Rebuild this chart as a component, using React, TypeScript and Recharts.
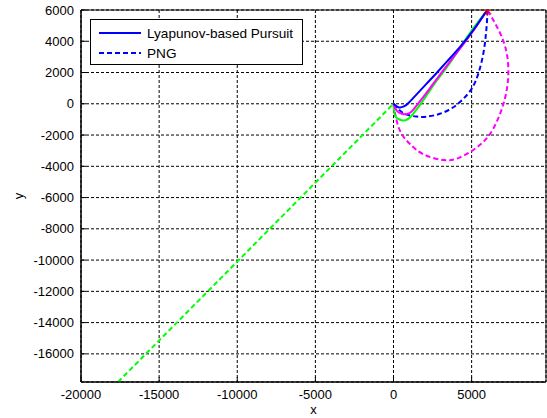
import {
  ComposedChart,
  Line,
  Scatter,
  XAxis,
  YAxis,
  CartesianGrid,
  ReferenceArea,
  Legend,
} from "recharts";

// === Axis ticks ===
const xTicks = [-20000, -15000, -10000, -5000, 0, 5000];
const yTicks = [6000, 4000, 2000, 0, -2000, -4000, -6000, -8000, -10000, -12000, -14000, -16000];
const xDomain = [-20000, 9760];
const yDomain = [-17800, 6000];

// === Trajectories ===
const lyapunovBlue = [
  { x: 0, y: 0 }, { x: 300, y: -220 }, { x: 670, y: -170 }, { x: 1010, y: 100 },
  { x: 1480, y: 600 }, { x: 2120, y: 1290 }, { x: 2760, y: 1970 }, { x: 3400, y: 2680 },
  { x: 4260, y: 3640 }, { x: 5110, y: 4710 }, { x: 6000, y: 6000 },
];
const lyapunovMagenta = [
  { x: 0, y: 0 }, { x: 200, y: -430 }, { x: 520, y: -640 }, { x: 940, y: -640 },
  { x: 1260, y: -390 }, { x: 1900, y: 420 }, { x: 2550, y: 1290 }, { x: 3500, y: 2550 },
  { x: 4500, y: 3850 }, { x: 5400, y: 5100 }, { x: 6000, y: 6000 },
];
const lyapunovGreen = [
  { x: 0, y: 0 }, { x: 90, y: -750 }, { x: 300, y: -965 }, { x: 620, y: -1075 },
  { x: 940, y: -965 }, { x: 1260, y: -640 }, { x: 1900, y: 210 }, { x: 2550, y: 1180 },
  { x: 3600, y: 2600 }, { x: 4700, y: 4250 }, { x: 5500, y: 5350 }, { x: 6000, y: 6000 },
];
const pngBlue = [
  { x: 0, y: 0 }, { x: 410, y: -430 }, { x: 840, y: -690 }, { x: 1480, y: -820 },
  { x: 2120, y: -820 }, { x: 2970, y: -640 }, { x: 3830, y: -220 }, { x: 4470, y: 320 },
  { x: 5010, y: 970 }, { x: 5430, y: 1930 }, { x: 5750, y: 3220 }, { x: 5920, y: 4500 },
  { x: 6000, y: 5570 }, { x: 6000, y: 6000 },
];
const pngMagenta = [
  { x: 0, y: 0 }, { x: 200, y: -1070 }, { x: 520, y: -1930 }, { x: 1050, y: -2570 },
  { x: 1900, y: -3220 }, { x: 3190, y: -3600 }, { x: 4260, y: -3430 }, { x: 5330, y: -2790 },
  { x: 6180, y: -1930 }, { x: 6820, y: -640 }, { x: 7200, y: 640 }, { x: 7350, y: 1930 },
  { x: 7250, y: 3220 }, { x: 6930, y: 4280 }, { x: 6500, y: 5150 }, { x: 6000, y: 6000 },
];
const pngGreen = [
  { x: -17630, y: -17800 }, { x: 0, y: 0 },
];
const target = [{ x: 6000, y: 6000 }];

const font = "'Liberation Sans', Arial, Helvetica, sans-serif";

const Star = (props: any) => {
  const { cx, cy } = props;
  const r = 6;
  const d = r * 0.7;
  return (
    <g stroke="#ff0000" strokeWidth={1}>
      <line x1={cx - r} y1={cy} x2={cx + r} y2={cy} />
      <line x1={cx} y1={cy - r} x2={cx} y2={cy + r} />
      <line x1={cx - d} y1={cy - d} x2={cx + d} y2={cy + d} />
      <line x1={cx - d} y1={cy + d} x2={cx + d} y2={cy - d} />
    </g>
  );
};

const LegendBox = () => (
  <div
    style={{
      border: "1px solid #000",
      background: "#fff",
      width: 211,
      height: 44,
      fontFamily: font,
      fontSize: 13.6,
      color: "#000",
      boxSizing: "content-box",
    }}
  >
    {[
      { label: "Lyapunov-based Pursuit", dash: undefined },
      { label: "PNG", dash: "5 3" },
    ].map((e, i) => (
      <div key={i} style={{ display: "flex", alignItems: "center", height: 20, marginTop: i === 0 ? 3 : 0 }}>
        <svg width={42} height={10} style={{ marginLeft: 8, marginRight: 6 }}>
          <line x1={0} y1={5} x2={42} y2={5} stroke="#0000ff" strokeWidth={2} strokeDasharray={e.dash} />
        </svg>
        <span>{e.label}</span>
      </div>
    ))}
  </div>
);

export default function App() {
  const common = { dataKey: "y", dot: false, isAnimationActive: false, strokeWidth: 2 } as const;
  return (
    <div style={{ position: "absolute", left: 0, top: 0, background: "#fff" }}>
      <ComposedChart width={547} height={418} margin={{ top: 10, right: 1, bottom: 0, left: 0 }}>
        <CartesianGrid stroke="#000" strokeDasharray="3 2" />
        <XAxis
          type="number"
          dataKey="x"
          domain={xDomain}
          ticks={xTicks}
          interval={0}
          allowDataOverflow
          height={36}
          stroke="#000"
          tickSize={-5}
          tickMargin={13}
          tick={{ fill: "#000", fontSize: 13, fontFamily: font }}
          label={{ value: "x", position: "insideBottom", offset: 4, fill: "#000", fontSize: 13, fontFamily: font }}
        />
        <YAxis
          type="number"
          dataKey="y"
          domain={yDomain}
          ticks={yTicks}
          interval={0}
          allowDataOverflow
          width={81}
          stroke="#000"
          tickSize={-5}
          tickMargin={12}
          tick={{ fill: "#000", fontSize: 13, fontFamily: font }}
          label={{
            content: (p: any) => {
              const vb = p.viewBox;
              return (
                <text
                  x={vb.x + 18}
                  y={vb.y + vb.height / 2}
                  transform={`rotate(-90 ${vb.x + 18} ${vb.y + vb.height / 2})`}
                  textAnchor="middle"
                  dominantBaseline="central"
                  fontSize={13}
                  fontFamily={font}
                  fill="#000"
                >
                  y
                </text>
              );
            },
          }}
        />
        <ReferenceArea x1={xDomain[0]} x2={xDomain[1]} y1={yDomain[0]} y2={yDomain[1]} fill="none" stroke="#000" strokeWidth={1} ifOverflow="visible" />

        <Line {...common} data={pngGreen} type="linear" stroke="#00ff00" strokeDasharray="5 3" />
        <Line {...common} data={pngMagenta} type="natural" stroke="#ff00ff" strokeDasharray="5 3" />
        <Line {...common} data={pngBlue} type="natural" stroke="#0000ff" strokeDasharray="5 3" />
        <Line {...common} data={lyapunovGreen} type="natural" stroke="#00ff00" />
        <Line {...common} data={lyapunovMagenta} type="natural" stroke="#ff00ff" />
        <Line {...common} data={lyapunovBlue} type="natural" stroke="#0000ff" />
        <Scatter data={target} dataKey="y" shape={<Star />} isAnimationActive={false} />

        <Legend
          content={<LegendBox />}
          layout="horizontal"
          verticalAlign="middle"
          align="center"
          wrapperStyle={{ left: 90, top: 19, width: "auto", height: "auto" }}
        />
      </ComposedChart>
    </div>
  );
}
